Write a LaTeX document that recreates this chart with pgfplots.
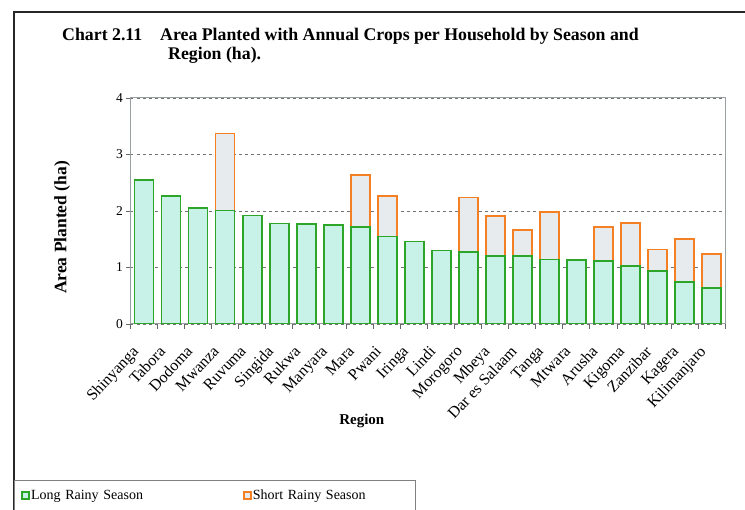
\documentclass[border=0pt]{standalone}
\usepackage{pgfplots}
\pgfplotsset{compat=1.18}
\usepackage{fontspec}
\setmainfont{Liberation Serif}
\definecolor{grnline}{RGB}{45,165,40}
\definecolor{grnfill}{RGB}{200,242,232}
\definecolor{orgline}{RGB}{245,128,35}
\definecolor{orgfill}{RGB}{232,235,237}
\definecolor{axgray}{RGB}{150,160,160}
\begin{document}
\begin{tikzpicture}
\useasboundingbox (0pt,0pt) rectangle (745pt,510pt);
% frame
\draw[black!85, line width=1.3pt] (14pt,0pt) -- (14pt,498pt) -- (745pt,498pt);
% title
\node[anchor=base west, inner sep=0pt, font=\bfseries\fontsize{17.8}{20}\selectfont] at (62pt,469pt) {Chart 2.11};
\node[anchor=base west, inner sep=0pt, font=\bfseries\fontsize{17.8}{20}\selectfont] at (160pt,469pt) {Area Planted with Annual Crops per Household by Season and};
\node[anchor=base west, inner sep=0pt, font=\bfseries\fontsize{17.8}{20}\selectfont] at (168pt,450pt) {Region (ha).};
\begin{axis}[
  at={(130.5pt,186pt)}, anchor=south west,
  scale only axis, width=594.5pt, height=226pt,
  xmin=-0.5, xmax=21.5, ymin=0, ymax=4,
  enlarge x limits=false,
  ybar, bar width=19pt, bar shift=0pt,
  xtick={0,...,21},
  xticklabels={Shinyanga,Tabora,Dodoma,Mwanza,Ruvuma,Singida,Rukwa,Manyara,Mara,Pwani,Iringa,Lindi,Morogoro,Mbeya,Dar es Salaam,Tanga,Mtwara,Arusha,Kigoma,Zanzibar,Kagera,Kilimanjaro},
  major x tick style={draw=none},
  minor xtick={-0.5,0.5,...,21.5},
  minor tick length=5pt,
  major tick length=4pt,
  tick align=outside,
  xtick pos=bottom, ytick pos=left,
  ytick={0,1,2,3,4},
  ymajorgrids, grid style={dashed, black!55, line width=0.6pt},
  axis line style={draw=axgray, line width=1pt},
  tick style={draw=black!60, line width=0.8pt},
  xticklabel style={xshift=-13pt, yshift=-15pt, rotate=47, anchor=north east, font=\fontsize{16}{18}\selectfont, inner sep=1pt},
  yticklabel style={font=\fontsize{13.5}{15}\selectfont},
  /pgf/number format/assume math mode=true,
  xlabel={Region},
  xlabel style={font=\bfseries\fontsize{15}{17}\selectfont, at={(axis description cs:0.389,-0.429)}, anchor=center},
  ylabel={Area Planted (ha)},
  ylabel style={font=\bfseries\fontsize{17.5}{19}\selectfont, at={(axis description cs:-0.115,0.427)}, anchor=center},
  legend columns=2,
  legend style={at={(axis description cs:-0.196,-0.69)}, anchor=north west,
    draw=black!50, line width=0.6pt, inner xsep=7pt, inner ysep=9pt,
    font=\fontsize{14}{16}\selectfont,
    nodes={text width=154pt, align=left, inner sep=1pt},
    /tikz/every even column/.append style={column sep=57pt}},
  legend image code/.code={\draw[#1, line width=1.8pt] (0pt,-3.5pt) rectangle (7pt,3.5pt);},
]
% Long + Short rainy season (total height of stacked bar)
\addplot[forget plot, draw=orgline, fill=orgfill, line width=1.8pt] coordinates {
 (3,3.37) (8,2.64) (9,2.26) (12,2.24) (13,1.91) (14,1.67) (15,1.98)
 (17,1.72) (18,1.79) (19,1.32) (20,1.51) (21,1.24)};
% Long rainy season
\addplot[forget plot, draw=grnline, fill=grnfill, line width=1.8pt] coordinates {
 (0,2.55) (1,2.26) (2,2.05) (3,2.01) (4,1.92) (5,1.78) (6,1.77) (7,1.75)
 (8,1.71) (9,1.55) (10,1.46) (11,1.30) (12,1.27) (13,1.21) (14,1.20)
 (15,1.14) (16,1.13) (17,1.12) (18,1.02) (19,0.94) (20,0.75) (21,0.64)};
\addlegendimage{draw=grnline, fill=grnfill}
\addlegendentry{Long Rainy Season}
\addlegendimage{draw=orgline, fill=orgfill}
\addlegendentry{Short Rainy Season}
\end{axis}
\end{tikzpicture}
\end{document}
